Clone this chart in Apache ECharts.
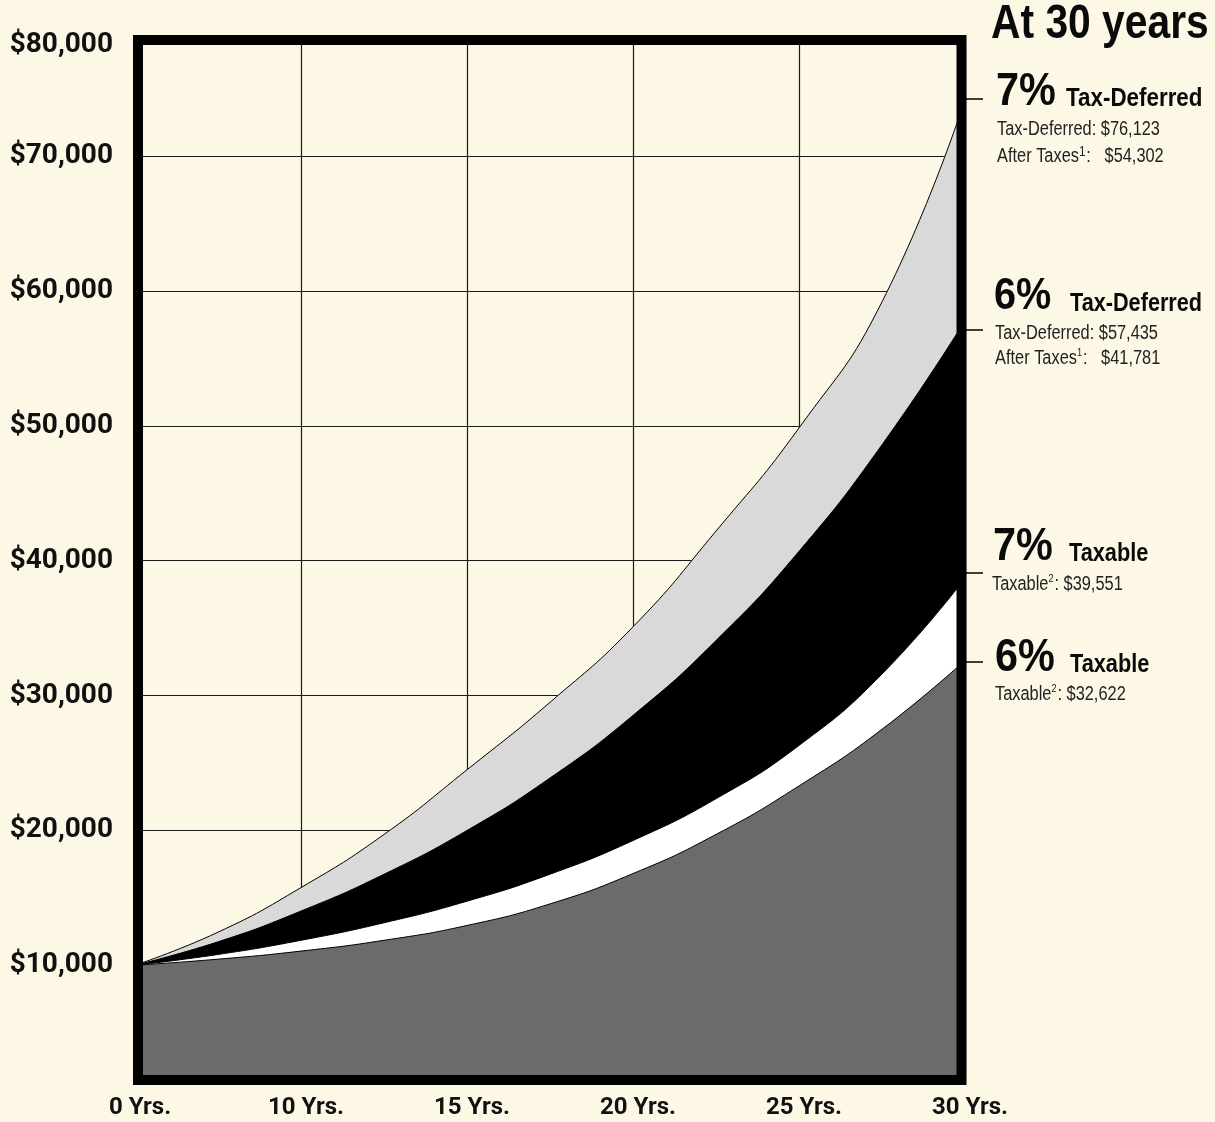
<!DOCTYPE html>
<html><head><meta charset="utf-8">
<script src="https://cdn.jsdelivr.net/npm/echarts@6/dist/echarts.min.js"></script>
<style>html,body{margin:0;padding:0;background:#fdf7e6;}#c{width:1215px;height:1122px;}</style>
</head><body><div id="c"></div>
<script>
// ---- data ----
const xLabels = ['0 Yrs.', '10 Yrs.', '15 Yrs.', '20 Yrs.', '25 Yrs.', '30 Yrs.'];
const xPositions = [0, 0.5, 1, 1.5, 2, 2.5, 3, 3.5, 4, 4.5, 5];
const yTickValues = [10000, 20000, 30000, 40000, 50000, 60000, 70000, 80000];
const yTickLabels = ['$10,000', '$20,000', '$30,000', '$40,000', '$50,000', '$60,000', '$70,000', '$80,000'];
const taxDeferred7 = [10000, 12450, 15760, 19700, 24500, 29500, 35100, 42200, 49850, 59200, 74200];
const taxDeferred6 = [10000, 11740, 14020, 16750, 20000, 23890, 28530, 34080, 40700, 48600, 57800];
const taxable7 = [10000, 10800, 11850, 13150, 14750, 16750, 19250, 22350, 26300, 31600, 38700];
const taxable6 = [10000, 10450, 11050, 11850, 12950, 14550, 16800, 19700, 23300, 27500, 32600];
const seriesNames = ['7% Tax-Deferred', '6% Tax-Deferred', '7% Taxable', '6% Taxable'];
const seriesValues = [taxDeferred7, taxDeferred6, taxable7, taxable6];

// ---- layout / style ----
const Y_MIN = 1860, Y_MAX = 78250;
const BG = '#fdf7e6';
const fills = ['#d9d9d9', '#000000', '#ffffff', '#6b6b6b'];
const SANS = '"Liberation Sans", Arial, sans-serif';
const TICKF = 'Roboto, "Liberation Sans", sans-serif';

const chart = echarts.init(document.getElementById('c'), null, {renderer: 'canvas'});
const labelVals = yTickValues.map(v => Math.min(v, Y_MAX));

// condensed text: regular sans squeezed horizontally
function txt(x, y, text, size, weight, sx) {
  return {
    type: 'text', z: 200, x: x, y: y, scaleX: sx, scaleY: 1,
    style: {
      x: 0, y: 0, text: text,
      fontSize: size, fontWeight: weight, fontFamily: SANS,
      fill: weight === 'bold' ? '#0a0a0a' : '#222',
      align: 'left', verticalAlign: 'middle'
    }
  };
}
function richTxt(x, y, parts, size, supSize, sx) {
  return {
    type: 'text', z: 200, x: x, y: y, scaleX: sx, scaleY: 1,
    style: {
      x: 0, y: 0, text: parts,
      fontSize: size, fontFamily: SANS, fill: '#222',
      align: 'left', verticalAlign: 'middle',
      rich: {
        t: {fontSize: size, fontFamily: SANS, fill: '#222', lineHeight: size + 2, verticalAlign: 'bottom'},
        sup: {fontSize: supSize, fontFamily: SANS, fill: '#222', lineHeight: size + 2, verticalAlign: 'top', padding: [0, 1, 0, 0]}
      }
    }
  };
}
function tick(y) {
  return {type: 'line', z: 200, shape: {x1: 964, y1: y, x2: 983, y2: y}, style: {stroke: '#000', lineWidth: 1.5}};
}

const option = {
  backgroundColor: BG,
  animation: false,
  grid: {left: 135, right: 250, top: 45, bottom: 47, containLabel: false},
  xAxis: {
    type: 'value', min: 0, max: 5, interval: 1,
    axisLine: {show: false}, axisTick: {show: false},
    splitLine: {show: true, lineStyle: {color: '#1a1a1a', width: 1.2}},
    axisLabel: {
      margin: 21, color: '#111', fontFamily: TICKF, fontWeight: 'bold', fontSize: 24,
      padding: [0, 0, 0, 10],
      formatter: v => xLabels[Math.round(v)]
    }
  },
  yAxis: {
    type: 'value', min: Y_MIN, max: Y_MAX,
    axisLine: {show: false},
    axisTick: {show: false, customValues: yTickValues.slice(1, 7)},
    splitLine: {show: true, lineStyle: {color: '#1a1a1a', width: 1.2}},
    axisLabel: {
      customValues: labelVals, margin: 22, color: '#111',
      fontFamily: TICKF, fontWeight: 'bold', fontSize: 28,
      formatter: v => yTickLabels[labelVals.indexOf(v)]
    }
  },
  series: seriesValues.map((vals, i) => ({
    name: seriesNames[i], type: 'line', smooth: 0.5,
    symbol: 'none', z: 2 + i,
    data: vals.map((v, j) => [xPositions[j], v]),
    lineStyle: {color: '#000', width: 1},
    areaStyle: {color: fills[i], opacity: 1, origin: 'start'}
  })),
  graphic: [
    {type: 'rect', z: 150, shape: {x: 138, y: 40, width: 823.5, height: 1040},
     style: {fill: null, stroke: '#000', lineWidth: 10}},
    txt(991, 25, 'At 30 years', 48, 'bold', 0.85),
    tick(99), tick(330), tick(573), tick(662),
    txt(996, 92, '7%', 46, 'bold', 0.9),
    txt(1066, 99, 'Tax-Deferred', 26.5, 'bold', 0.845),
    txt(997, 130, 'Tax-Deferred: $76,123', 19.5, 'normal', 0.84),
    richTxt(997, 156, '{t|After Taxes}{sup|1}{t|:   $54,302}', 19.5, 14, 0.84),
    txt(994, 297, '6%', 44, 'bold', 0.9),
    txt(1070, 304, 'Tax-Deferred', 25.5, 'bold', 0.85),
    txt(995, 334, 'Tax-Deferred: $57,435', 19.5, 'normal', 0.84),
    richTxt(995, 358, '{t|After Taxes}{sup|1}{t|:   $41,781}', 19.5, 11, 0.84),
    txt(993, 547, '7%', 46, 'bold', 0.9),
    txt(1069, 554, 'Taxable', 25, 'bold', 0.87),
    richTxt(992, 584, '{t|Taxable}{sup|2}{t|: $39,551}', 19.5, 11, 0.84),
    txt(995, 658, '6%', 46, 'bold', 0.9),
    txt(1070, 665, 'Taxable', 25, 'bold', 0.87),
    richTxt(995, 694, '{t|Taxable}{sup|2}{t|: $32,622}', 19.5, 11, 0.84)
  ]
};
chart.setOption(option);
</script></body></html>
